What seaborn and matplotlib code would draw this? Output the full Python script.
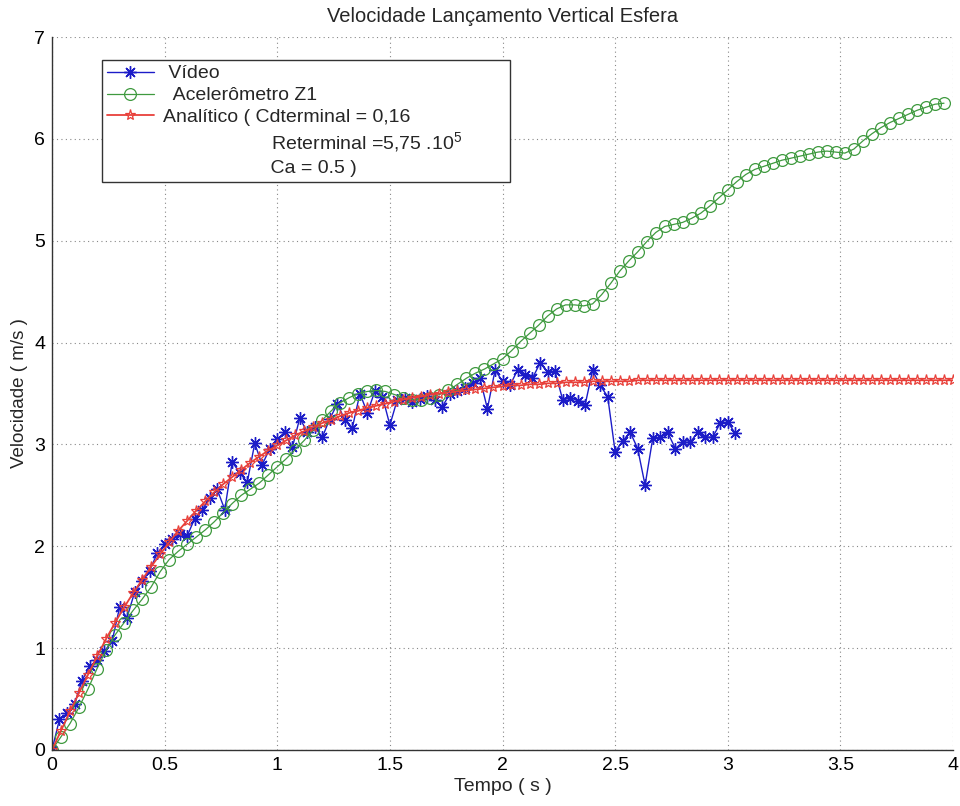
import numpy as np
import pandas as pd
import matplotlib
matplotlib.use("Agg")
import matplotlib.pyplot as plt
from matplotlib.lines import Line2D
import seaborn as sns

# ---------------- data ----------------
# Vídeo: frames at 30 fps
video_t = np.round(np.arange(92) / 30.0, 3)
video_v = [0.00, 0.30, 0.36, 0.45, 0.68, 0.82, 0.88, 0.97, 1.07, 1.40,
           1.30, 1.55, 1.66, 1.76, 1.93, 2.02, 2.07, 2.12, 2.10, 2.27,
           2.36, 2.47, 2.56, 2.36, 2.83, 2.72, 2.63, 3.01, 2.80, 2.96,
           3.05, 3.12, 2.97, 3.26, 3.12, 3.17, 3.07, 3.25, 3.40, 3.24,
           3.16, 3.50, 3.31, 3.52, 3.47, 3.19, 3.44, 3.46, 3.42, 3.45,
           3.48, 3.44, 3.37, 3.50, 3.52, 3.55, 3.60, 3.65, 3.35, 3.73,
           3.62, 3.58, 3.73, 3.68, 3.65, 3.80, 3.71, 3.72, 3.44, 3.46,
           3.43, 3.39, 3.73, 3.58, 3.47, 2.93, 3.03, 3.12, 2.96, 2.60,
           3.06, 3.07, 3.12, 2.96, 3.02, 3.02, 3.12, 3.07, 3.07, 3.21,
           3.22, 3.11]

# Acelerômetro Z1: samples every 0.04 s
acc_t = np.round(np.arange(100) * 0.04, 2)
acc_v = [0.00, 0.13, 0.26, 0.42, 0.60, 0.80, 0.98, 1.13, 1.25, 1.37,
         1.48, 1.60, 1.75, 1.87, 1.95, 2.02, 2.09, 2.16, 2.24, 2.33,
         2.42, 2.50, 2.56, 2.62, 2.70, 2.78, 2.86, 2.95, 3.04, 3.14,
         3.24, 3.33, 3.41, 3.46, 3.50, 3.52, 3.53, 3.52, 3.49, 3.46,
         3.44, 3.44, 3.46, 3.49, 3.53, 3.59, 3.65, 3.70, 3.74, 3.79,
         3.84, 3.92, 4.01, 4.09, 4.17, 4.26, 4.33, 4.37, 4.37, 4.36,
         4.38, 4.47, 4.58, 4.70, 4.80, 4.89, 4.99, 5.08, 5.14, 5.16,
         5.18, 5.22, 5.27, 5.34, 5.42, 5.50, 5.58, 5.65, 5.70, 5.73,
         5.76, 5.79, 5.81, 5.83, 5.85, 5.87, 5.88, 5.87, 5.86, 5.90,
         5.98, 6.05, 6.11, 6.16, 6.20, 6.24, 6.28, 6.31, 6.34, 6.35]

# Analítico: samples every 0.04 s
ana_t = np.round(np.arange(101) * 0.04, 2)
ana_v = [0.00, 0.19, 0.38, 0.56, 0.74, 0.92, 1.09, 1.25, 1.40, 1.54,
         1.67, 1.80, 1.92, 2.04, 2.15, 2.25, 2.35, 2.44, 2.53, 2.61,
         2.68, 2.75, 2.82, 2.88, 2.94, 2.99, 3.04, 3.09, 3.13, 3.17,
         3.21, 3.24, 3.28, 3.31, 3.33, 3.36, 3.38, 3.40, 3.42, 3.44,
         3.46, 3.47, 3.49, 3.50, 3.51, 3.52, 3.53, 3.54, 3.55, 3.56,
         3.57, 3.58, 3.58, 3.59, 3.59, 3.60, 3.60, 3.61, 3.61, 3.61,
         3.62, 3.62, 3.62, 3.62, 3.62, 3.63, 3.63, 3.63, 3.63, 3.63,
         3.63, 3.63, 3.63, 3.63, 3.63, 3.63, 3.63, 3.63, 3.63, 3.63,
         3.63, 3.63, 3.63, 3.63, 3.63, 3.63, 3.63, 3.63, 3.63, 3.63,
         3.63, 3.63, 3.63, 3.63, 3.63, 3.63, 3.63, 3.63, 3.63, 3.63,
         3.63]

x_ticks = [0, 0.5, 1, 1.5, 2, 2.5, 3, 3.5, 4]
x_ticklabels = ["0", "0.5", "1", "1.5", "2", "2.5", "3", "3.5", "4"]
y_ticks = [0, 1, 2, 3, 4, 5, 6, 7]

labels = [" Vídeo", "  Acelerômetro Z1", "Analítico ( Cdterminal = 0,16",
          "                    Reterminal =5,75 .10$^{5}$",
          "                    Ca = 0.5 )"]
title = "Velocidade Lançamento Vertical Esfera"
xlabel = "Tempo ( s )"
ylabel = "Velocidade ( m/s )"

# ---------------- style ----------------
sns.set_style("white")
plt.rcParams["font.family"] = ["Liberation Sans", "DejaVu Sans"]
plt.rcParams["mathtext.fontset"] = "custom"
plt.rcParams["mathtext.rm"] = "Liberation Sans"
FS = 14

AX_L, AX_R, AX_T, AX_B = 52, 953, 37, 750
fig = plt.figure(figsize=(9.6, 8.06), dpi=100)
ax = fig.add_axes([AX_L / 960, 1 - AX_B / 806, (AX_R - AX_L) / 960,
                   (AX_B - AX_T) / 806])

df_v = pd.DataFrame({"t": video_t, "v": video_v})
df_a = pd.DataFrame({"t": acc_t, "v": acc_v})
df_r = pd.DataFrame({"t": ana_t, "v": ana_v})

blue = "#1c1cc8"
green = "#3f9a3f"
red = "#e8403a"

sns.lineplot(data=df_v, x="t", y="v", ax=ax, estimator=None, sort=False,
             color=blue, linewidth=1.0, marker=(8, 2, 0), markersize=9,
             markeredgecolor=blue, markeredgewidth=1.0)
sns.lineplot(data=df_a, x="t", y="v", ax=ax, estimator=None, sort=False,
             color=green, linewidth=0.9, marker="o", markersize=8.5,
             markerfacecolor="none", markeredgecolor=green, markeredgewidth=0.9)
sns.lineplot(data=df_r, x="t", y="v", ax=ax, estimator=None, sort=False,
             color=red, linewidth=1.3, marker="*", markersize=8,
             markerfacecolor="none", markeredgecolor=red, markeredgewidth=0.9)

ax.set_xlim(0, 4)
ax.set_ylim(0, 7)
ax.set_xticks(x_ticks)
ax.set_xticklabels(x_ticklabels)
ax.set_yticks(y_ticks)
ax.tick_params(direction="in", length=5, width=0.8, labelsize=FS, colors="black",
               pad=5)
ax.grid(True, linestyle=(0, (1, 3)), color="#888888", linewidth=0.8)
for s in ["top", "right"]:
    ax.spines[s].set_visible(False)
for s in ["left", "bottom"]:
    ax.spines[s].set_color("#333333")
    ax.spines[s].set_linewidth(1.0)

ax.set_title(title, fontsize=14.5, pad=11)
ax.set_xlabel(xlabel, fontsize=FS, labelpad=3)
ax.set_ylabel(ylabel, fontsize=13.5, labelpad=4)

lines = ax.get_lines()
blank = Line2D([], [], linestyle="none")
handles = [lines[0], lines[1], lines[2], blank, blank]
W = AX_R - AX_L
H = AX_B - AX_T
leg = ax.legend(handles, labels, loc="upper left", mode="expand",
                bbox_to_anchor=((102 - AX_L) / W, (AX_B - 185) / H,
                                (510 - 102) / W, (185 - 60) / H),
                borderaxespad=0, fontsize=FS, frameon=True, fancybox=False,
                handlelength=2.4, handletextpad=0.5, labelspacing=0.22,
                borderpad=0.25)
leg.get_frame().set_edgecolor("#333333")
leg.get_frame().set_linewidth(1.0)
leg.get_frame().set_alpha(1)

fig.savefig("out.png", dpi=100)
